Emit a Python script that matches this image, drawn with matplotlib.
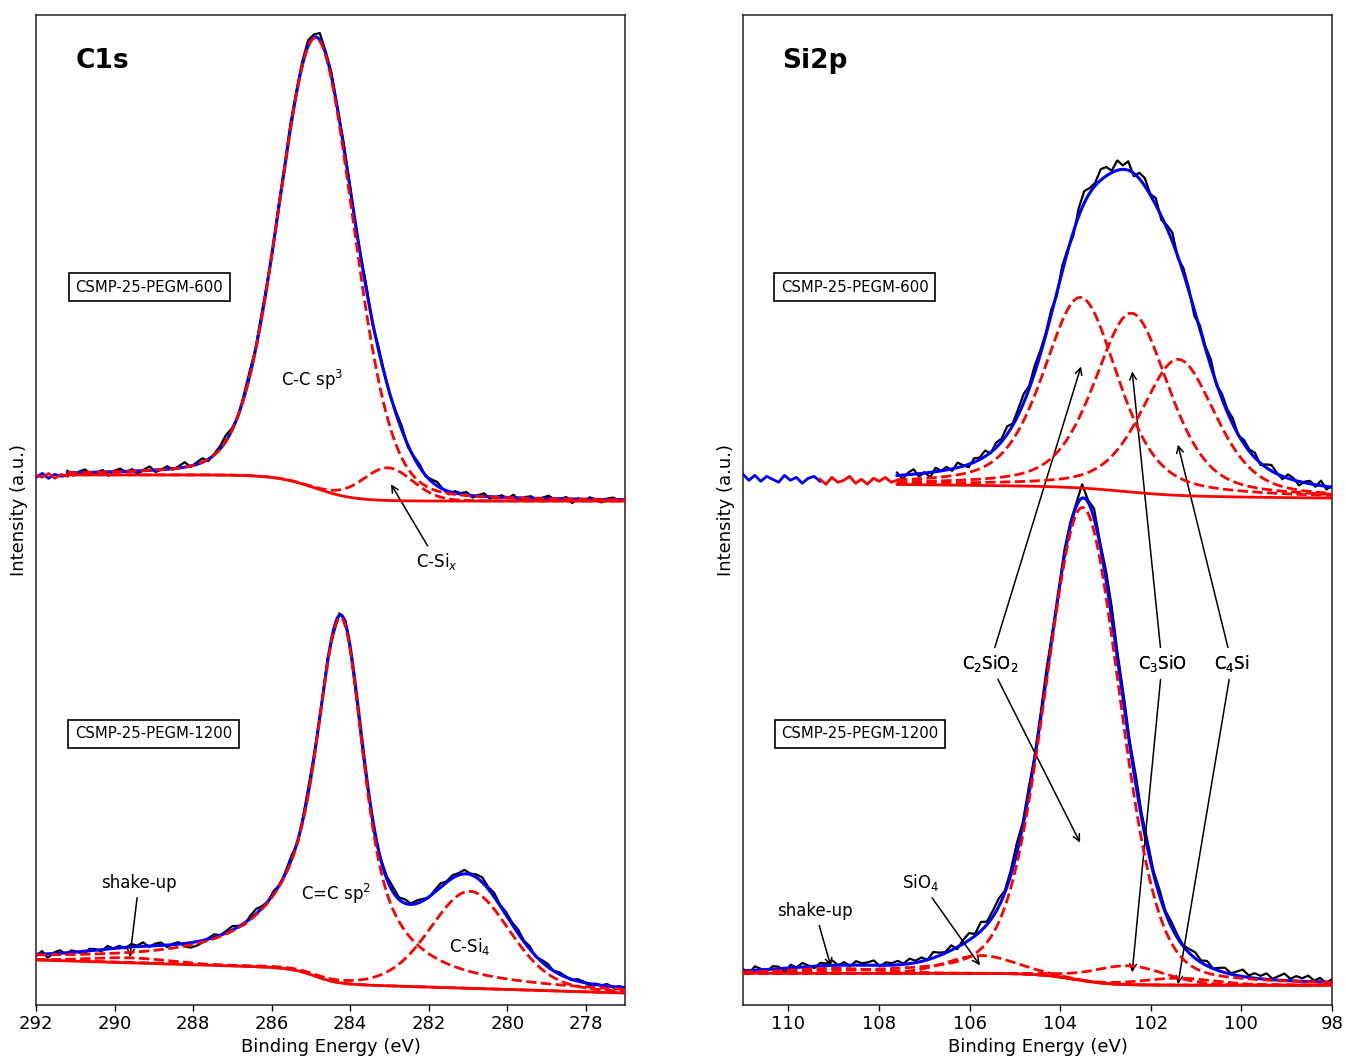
import numpy as np
import matplotlib.pyplot as plt

plt.rcParams['font.family'] = 'DejaVu Sans'

# fit windows (high BE -> low BE), eV
c600_window = (291.2, 277.0)
c1200_window = (292.0, 277.0)
si600_window = (107.6, 98.0)
si1200_window = (111.0, 98.0)

# background: base, slope per eV, step height, step centre, step width, reference energy
c600_bg = (50.9, 0.0, 2.65, 284.9, 1.0, 277.0)
c1200_bg = (1.21, 0.12, 1.54, 284.9, 0.6, 277.0)
si600_bg = (51.2, 0.05, 0.9, 102.6, 1.2, 98.0)
si1200_bg = (2.0, 0.0, 1.2, 103.7, 0.8, 98.0)

# peaks: centre, height, gaussian fwhm, lorentzian fwhm (high BE side), lorentzian fwhm (low BE side), lorentzian fraction
c600_peaks = [(284.86, 45.5, 2.25, 2.25, 2.25, 0.15),   # C-C sp3
              (283.04, 3.3, 1.5, 1.5, 1.5, 0.1)]        # C-Si_x
c1200_peaks = [(284.24, 36.9, 1.1, 2.4, 1.9, 0.6),      # C=C sp2
               (280.95, 9.8, 2.4, 2.4, 2.4, 0.2),       # C-Si4
               (289.6, 0.5, 2.5, 2.5, 2.5, 0.0)]        # shake-up
si600_peaks = [(103.55, 19.25, 1.95, 1.95, 1.95, 0.45),  # C2SiO2
               (102.42, 18.07, 1.95, 1.95, 1.95, 0.45),  # C3SiO
               (101.39, 13.74, 1.95, 1.95, 1.95, 0.45)]  # C4Si
si1200_peaks = [(103.50, 47.8, 1.95, 1.95, 1.95, 0.2),   # C2SiO2
                (105.75, 1.8, 1.8, 1.8, 1.8, 0.1),       # SiO4
                (102.5, 1.9, 1.9, 1.9, 1.9, 0.1),        # C3SiO
                (101.4, 0.7, 1.9, 1.9, 1.9, 0.1),        # C4Si
                (109.0, 0.5, 2.5, 2.5, 2.5, 0.0)]        # shake-up

# measured counts minus fit envelope, across each window
c600_resid = [0.2, -0.3, 0.1, 0.3, -0.2, 0.0, 0.2, -0.4, 0.1, 0.3,
              -0.1, 0.2, -0.3, 0.1, 0.4, -0.2, 0.0, 0.3, -0.1, 0.2,
              0.5, -0.1, 0.2, 0.4, -0.2, 0.1, 0.3, 0.6, 0.2, -0.1,
              0.3, 0.5, 0.1, 0.4, 0.2, -0.2, 0.3, 0.1, 0.5, 0.2,
              0.4, 0.6, 0.3, 0.7, 0.2, 0.4, -0.1, 0.3, 0.2, -0.3,
              0.1, 0.4, -0.2, 0.3, 0.1, -0.1, 0.2, 0.4, -0.2, 0.1,
              0.3, -0.1, 0.2, 0.4, 0.0, -0.3, 0.2, 0.1, 0.3, -0.2,
              0.1, 0.3, -0.2, 0.0, 0.2, -0.1, 0.3, -0.3, 0.1, 0.2,
              -0.2, 0.1, 0.3, -0.1, 0.0, 0.2, -0.4, 0.1, -0.2, 0.2,
              0.0, -0.3, 0.1, 0.2, -0.1, 0.1]
c1200_resid = [-0.2, 0.3, -0.4, 0.1, 0.3, -0.1, 0.2, 0.0, -0.3, 0.2,
               0.1, -0.2, 0.3, 0.0, 0.2, -0.1, 0.3, 0.1, 0.4, -0.1,
               0.2, 0.3, -0.2, 0.1, 0.2, -0.3, -0.5, -0.4, -0.2, 0.1,
               0.3, 0.0, 0.2, 0.4, 0.1, -0.2, 0.3, 0.5, 0.2, 0.0,
               0.3, -0.1, 0.2, 0.4, -0.3, 0.3, 0.5, 0.1, -0.2, 0.3,
               -0.4, 0.2, 0.3, -0.2, -0.5, -0.6, -0.3, -0.5, 0.1, 0.3,
               0.5, 0.2, 0.4, 0.1, 0.3, 0.2, -0.1, 0.2, 0.4, 0.1,
               0.3, 0.2, 0.4, 0.1, 0.3, 0.5, 0.2, 0.4, 0.1, 0.3,
               0.2, 0.4, 0.1, 0.3, -0.1, 0.2, 0.3, 0.0, 0.2, 0.1,
               -0.1, 0.2, 0.1, -0.2, 0.1, 0.0, 0.2, -0.1, 0.1, 0.0]
si600_resid = [0.3, -0.4, 0.2, 0.5, -0.3, 0.1, -0.5, 0.4, 0.0, 0.3,
               -0.2, 0.5, 0.1, -0.3, 0.4, 0.2, 0.6, -0.1, 0.5, 0.3,
               0.8, 0.2, 0.6, 0.9, 0.3, 0.7, 0.4, 0.2, 0.5, -0.3,
               0.6, 0.2, -0.4, 0.8, 1.2, 0.5, 0.3, 1.1, 0.9, 0.2,
               1.0, 0.4, 0.9, -0.3, 0.6, 0.8, 0.1, 0.7, -0.4, 0.3,
               0.9, -0.2, 0.5, 0.3, -0.6, 0.4, 0.2, 0.7, -0.2, 0.5,
               0.3, 0.6, -0.1, 0.4, 0.2, 0.5, -0.2, 0.3, 0.6, 0.1,
               -0.3, 0.4, 0.2, -0.4, 0.1, 0.3, -0.2, 0.5, -0.3, 0.1]
si1200_resid = [0.2, -0.3, 0.4, 0.1, -0.2, 0.3, 0.2, -0.4, 0.3, 0.0,
                0.4, 0.1, -0.2, 0.3, 0.2, 0.5, 0.0, 0.3, -0.1, 0.4,
                0.2, 0.3, 0.5, -0.1, 0.3, 0.2, 0.4, 0.1, 0.5, 0.2,
                0.4, 0.0, 0.6, 0.3, 0.1, 0.5, -0.2, 0.4, 0.7, 0.2,
                0.9, 0.3, 0.6, 0.8, 0.2, 0.5, 1.0, 0.4, 0.7, 0.3,
                0.5, 0.8, 0.2, -0.3, 0.6, 0.4, 0.3, 1.4, 0.2, 1.0,
                0.3, 0.9, 1.1, 0.6, 0.8, 0.4, 0.9, 0.5, 0.7, 0.3,
                0.6, 0.2, 0.5, 0.3, 0.1, 0.4, 0.6, 0.2, 0.5, 0.0,
                0.3, 0.5, 0.1, 0.4, 0.7, 0.2, 0.5, 0.3, 0.6, 0.1,
                0.4, 0.7, 0.2, 0.5, 0.3, 0.6, 0.1, 0.4, -0.1, 0.3]

# raw counts left of the fit windows (envelope in blue, background in red)
c600_pre_range = (292.0, 291.2)
c600_pre_blue = [53.3, 53.7, 53.2, 53.6, 53.4, 53.5]
c600_pre_red = [53.5, 53.3, 53.7, 53.2, 53.6, 53.4]
si600_pre_blue_range = (111.0, 109.3)
si600_pre_blue = [53.6, 53.0, 53.5, 52.9, 53.4, 53.1, 52.8, 53.5, 53.0, 53.3, 52.7, 53.2, 53.4, 52.9]
si600_pre_red_range = (109.3, 107.6)
si600_pre_red = [53.1, 52.6, 53.3, 52.8, 53.0, 53.4, 52.7, 53.1, 52.6, 53.2, 52.9, 53.3, 52.8, 53.0]


def background(e, p):
    base, slope, step, e0, w, eref = p
    return base + slope * (e - eref) + step * 0.5 * (1 + np.tanh((e - e0) / w))


def component(e, p):
    c, h, wg, wl_hi, wl_lo, eta = p
    wl = np.where(e > c, wl_hi, wl_lo)
    g = np.exp(-4 * np.log(2) * ((e - c) / wg) ** 2)
    l = 1 / (1 + (2 * (e - c) / wl) ** 2)
    return h * ((1 - eta) * g + eta * l)


def draw_spectrum(ax, window, bg, peaks, resid):
    e_fit = np.linspace(window[0], window[1], 800)
    b = background(e_fit, bg)
    comps = [component(e_fit, p) for p in peaks]
    env = b + sum(comps)

    e_raw = np.linspace(window[0], window[1], len(resid))
    raw = background(e_raw, bg) + sum(component(e_raw, p) for p in peaks) + np.array(resid)

    ax.plot(e_raw, raw, color='black', lw=1.6, zorder=2)
    ax.plot(e_fit, env, color='blue', lw=2.2, zorder=3)
    for c in comps:
        ax.plot(e_fit, b + c, color='red', ls='--', lw=2.0, zorder=4)
    ax.plot(e_fit, b, color='red', lw=2.0, zorder=4)


def label_box(ax, x, y, text):
    ax.text(x, y, text, fontsize=10.7, ha='center', va='center',
            bbox=dict(boxstyle='square,pad=0.45', fc='white', ec='black', lw=1.2))


arrow = dict(arrowstyle='->', color='black', lw=1.1, shrinkB=0)

fig = plt.figure(figsize=(13.46, 10.63), dpi=100)
ax1 = fig.add_axes([36 / 1346, 58 / 1063, 589 / 1346, 990 / 1063])
ax2 = fig.add_axes([743 / 1346, 58 / 1063, 589 / 1346, 990 / 1063])

# ---- C1s ----
draw_spectrum(ax1, c600_window, c600_bg, c600_peaks, c600_resid)
draw_spectrum(ax1, c1200_window, c1200_bg, c1200_peaks, c1200_resid)
e_pre = np.linspace(*c600_pre_range, len(c600_pre_blue))
ax1.plot(e_pre, c600_pre_blue, color='blue', lw=2.0, zorder=3)
ax1.plot(e_pre, c600_pre_red, color='red', lw=1.8, zorder=4)

ax1.set_xlim(292, 277)
ax1.set_xticks(np.arange(292, 277, -2))
ax1.text(291.0, 95.4, 'C1s', fontsize=19, fontweight='bold', va='center', ha='left')
label_box(ax1, 289.12, 72.5, 'CSMP-25-PEGM-600')
label_box(ax1, 289.0, 27.4, 'CSMP-25-PEGM-1200')
ax1.text(284.97, 63.1, 'C-C sp$^3$', fontsize=12, ha='center', va='center')
ax1.annotate('C-Si$_x$', xy=(282.96, 52.6), xytext=(281.79, 44.8), fontsize=12,
             ha='center', va='center', arrowprops=arrow)
ax1.annotate('shake-up', xy=(289.61, 4.8), xytext=(289.38, 12.3), fontsize=12,
             ha='center', va='center', arrowprops=arrow)
ax1.text(284.36, 11.2, 'C=C sp$^2$', fontsize=12, ha='center', va='center')
ax1.text(280.95, 5.9, 'C-Si$_4$', fontsize=12, ha='center', va='center')

# ---- Si2p ----
draw_spectrum(ax2, si600_window, si600_bg, si600_peaks, si600_resid)
draw_spectrum(ax2, si1200_window, si1200_bg, si1200_peaks, si1200_resid)
ax2.plot(np.linspace(*si600_pre_blue_range, len(si600_pre_blue)), si600_pre_blue,
         color='blue', lw=2.0, zorder=3)
ax2.plot(np.linspace(*si600_pre_red_range, len(si600_pre_red)), si600_pre_red,
         color='red', lw=2.0, zorder=4)

ax2.set_xlim(111, 98)
ax2.set_xticks(np.arange(110, 97, -2))
ax2.text(110.14, 95.4, 'Si2p', fontsize=19, fontweight='bold', va='center', ha='left')
label_box(ax2, 108.53, 72.5, 'CSMP-25-PEGM-600')
label_box(ax2, 108.42, 27.4, 'CSMP-25-PEGM-1200')

pointers = {
    'C$_2$SiO$_2$': ((105.55, 34.5), [(103.54, 64.5), (103.56, 16.4)]),
    'C$_3$SiO': ((101.75, 34.5), [(102.41, 64.0), (102.41, 3.3)]),
    'C$_4$Si': ((100.21, 34.5), [(101.40, 56.6), (101.40, 2.1)]),
}
for name, (pos, targets) in pointers.items():
    for tgt in targets:
        ax2.annotate(name, xy=tgt, xytext=pos, fontsize=12, ha='center', va='center',
                     arrowprops=arrow)
ax2.annotate('SiO$_4$', xy=(105.77, 4.0), xytext=(107.07, 12.4), fontsize=12,
             ha='center', va='center', arrowprops=arrow)
ax2.annotate('shake-up', xy=(109.06, 3.9), xytext=(109.41, 9.5), fontsize=12,
             ha='center', va='center', arrowprops=arrow)

for ax in (ax1, ax2):
    ax.set_ylim(0, 100)
    ax.set_yticks([])
    ax.set_xlabel('Binding Energy (eV)', fontsize=13, labelpad=3)
    ax.set_ylabel('Intensity (a.u.)', fontsize=13, labelpad=6)
    ax.tick_params(axis='x', labelsize=13, length=4, width=1)
    for s in ax.spines.values():
        s.set_linewidth(1.1)
        s.set_color('#222222')

fig.savefig('out.png', dpi=100)
